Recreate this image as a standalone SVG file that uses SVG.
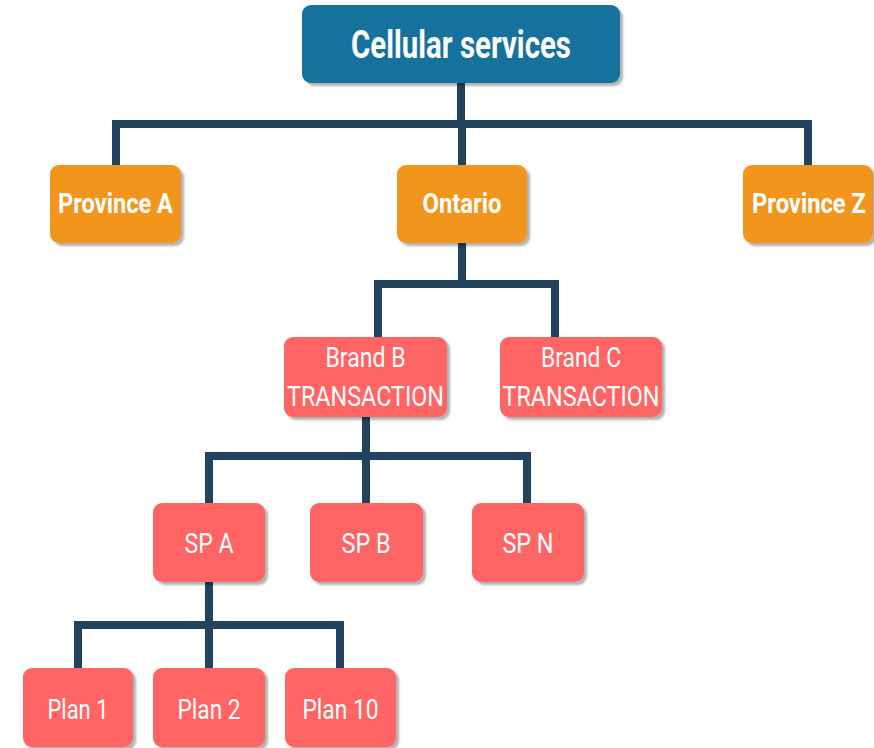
<svg xmlns="http://www.w3.org/2000/svg" width="874" height="748" viewBox="0 0 874 748">
<defs>
<filter id="sh" x="-10%" y="-10%" width="125%" height="130%">
<feDropShadow dx="3" dy="3" stdDeviation="1.2" flood-color="#000" flood-opacity="0.3"/>
</filter>
</defs>
<style>
.box{filter:url(#sh)}
.top{fill:#12729c}
.org{fill:#f2951f}
.pnk{fill:#ff6565}
.t{font-family:Roboto,"Liberation Sans",sans-serif;fill:#fff;text-anchor:middle}
.b{font-weight:bold}
.n{font-weight:normal}
.c{fill:none;stroke:#22435d;stroke-width:8;stroke-linejoin:miter;stroke-linecap:butt}
</style>
<rect width="874" height="748" fill="#fff"/>
<g id="connectors">
<path class="c" d="M461 83V124M116 165V124H808V165M462 124V165"/>
<path class="c" d="M462 243V284M378 337V284H555V337"/>
<path class="c" d="M366 417V456M209 503V456H527V503M366 456V503"/>
<path class="c" d="M209 582V625M78 668V625H340V668M209 625V668"/>
</g>
<g id="n-top"><rect class="box top" x="302" y="5" width="318" height="78" rx="9"/><text class="t b" x="461" y="58" font-size="38" textLength="220" lengthAdjust="spacingAndGlyphs">Cellular services</text></g>
<g id="n-provA"><rect class="box org" x="50" y="165" width="131" height="78" rx="9"/><text class="t b" x="115.5" y="213" font-size="27" textLength="115" lengthAdjust="spacingAndGlyphs">Province A</text></g>
<g id="n-ontario"><rect class="box org" x="397" y="165" width="130" height="78" rx="9"/><text class="t b" x="462" y="213" font-size="27" textLength="79" lengthAdjust="spacingAndGlyphs">Ontario</text></g>
<g id="n-provZ"><rect class="box org" x="743" y="165" width="130" height="78" rx="9"/><text class="t b" x="809" y="213" font-size="27" textLength="114" lengthAdjust="spacingAndGlyphs">Province Z</text></g>
<g id="n-brandB"><rect class="box pnk" x="284" y="337" width="163" height="80" rx="9"/><text class="t n" x="365.5" y="367" font-size="28" textLength="80" lengthAdjust="spacingAndGlyphs">Brand B</text><text class="t n" x="365.5" y="406" font-size="27" textLength="157" lengthAdjust="spacingAndGlyphs">TRANSACTION</text></g>
<g id="n-brandC"><rect class="box pnk" x="500" y="337" width="162" height="80" rx="9"/><text class="t n" x="581" y="367" font-size="28" textLength="80" lengthAdjust="spacingAndGlyphs">Brand C</text><text class="t n" x="581" y="406" font-size="27" textLength="157" lengthAdjust="spacingAndGlyphs">TRANSACTION</text></g>
<g id="n-spA"><rect class="box pnk" x="153" y="503" width="112" height="79" rx="9"/><text class="t n" x="209" y="553" font-size="28" textLength="49" lengthAdjust="spacingAndGlyphs">SP A</text></g>
<g id="n-spB"><rect class="box pnk" x="310" y="503" width="113" height="79" rx="9"/><text class="t n" x="366" y="553" font-size="28" textLength="49" lengthAdjust="spacingAndGlyphs">SP B</text></g>
<g id="n-spN"><rect class="box pnk" x="472" y="503" width="112" height="79" rx="9"/><text class="t n" x="528" y="553" font-size="28" textLength="51" lengthAdjust="spacingAndGlyphs">SP N</text></g>
<g id="n-plan1"><rect class="box pnk" x="23" y="668" width="110" height="79" rx="9"/><text class="t n" x="78" y="719" font-size="28" textLength="61" lengthAdjust="spacingAndGlyphs">Plan 1</text></g>
<g id="n-plan2"><rect class="box pnk" x="153" y="668" width="112" height="79" rx="9"/><text class="t n" x="209" y="719" font-size="28" textLength="63" lengthAdjust="spacingAndGlyphs">Plan 2</text></g>
<g id="n-plan10"><rect class="box pnk" x="285" y="668" width="111" height="79" rx="9"/><text class="t n" x="340.5" y="719" font-size="28" textLength="76" lengthAdjust="spacingAndGlyphs">Plan 10</text></g>
</svg>
